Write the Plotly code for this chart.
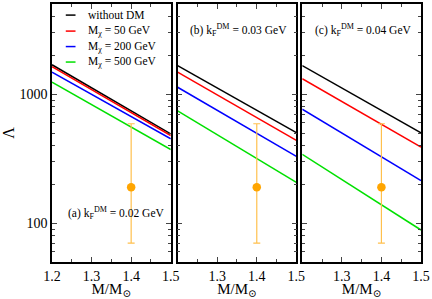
import plotly.graph_objects as go

# ---- data ----
mass = [1.2, 1.5]
series_names = ["without DM", "M<sub>χ</sub> = 50 GeV", "M<sub>χ</sub> = 200 GeV", "M<sub>χ</sub> = 500 GeV"]
series_colors = ["black", "red", "blue", "#00e000"]
panel_a = [[1690, 492], [1635, 478], [1480, 451], [1242, 372]]
panel_b = [[1665, 504], [1480, 438], [1131, 330], [741, 207]]
panel_c = [[1665, 501], [1318, 389], [764, 214], [342, 88.5]]
panels = [panel_a, panel_b, panel_c]
panel_labels = ["(a) k<sub>F</sub><sup>DM</sup> = 0.02 GeV",
                "(b) k<sub>F</sub><sup>DM</sup> = 0.03 GeV",
                "(c) k<sub>F</sub><sup>DM</sup> = 0.04 GeV"]
obs_x = [1.4]
obs_y = [190]
obs_plus = [400]
obs_minus = [120]

x_major = [1.2, 1.3, 1.4, 1.5]
x_minor = [1.25, 1.35, 1.45]
y_major = [100, 1000]
y_minor = [60, 70, 80, 90, 200, 300, 400, 500, 600, 700, 800, 900, 2000, 3000, 4000]

FONT = "Times New Roman, Liberation Serif, DejaVu Serif, serif"
W, H = 432, 299
L, R, T, B = 46, 10, 2, 36
pw = W - L - R
domains = [(0, 121 / pw), (128 / pw, 249 / pw), (255 / pw, 1.0)]

fig = go.Figure()
for i, pdata in enumerate(panels):
    xa = "x" if i == 0 else f"x{i+1}"
    ya = "y" if i == 0 else f"y{i+1}"
    for j, vals in enumerate(pdata):
        fig.add_trace(go.Scatter(x=mass, y=vals, mode="lines", xaxis=xa, yaxis=ya,
                                 line=dict(color=series_colors[j], width=1.5),
                                 name=series_names[j], showlegend=False))
    fig.add_trace(go.Scatter(x=obs_x, y=obs_y, mode="markers", xaxis=xa, yaxis=ya,
                             marker=dict(color="#FFA500", size=8.5),
                             error_y=dict(type="data", symmetric=False, array=obs_plus,
                                          arrayminus=obs_minus, color="#FFC04D",
                                          thickness=1.2, width=3.5),
                             showlegend=False))

for i in range(3):
    sfx = "" if i == 0 else str(i + 1)
    fig.layout["xaxis" + sfx] = dict(
        domain=domains[i], range=[1.2, 1.5], anchor="y" + sfx,
        tickmode="array",
        tickvals=x_major if i == 0 else x_major[1:],
        ticks="inside", ticklen=5, tickwidth=1.2,
        minor=dict(tickmode="array", tickvals=x_minor, ticks="inside", ticklen=3, tickwidth=1.2),
        showline=True, linewidth=1.5, linecolor="black", mirror="allticks",
        showgrid=False, zeroline=False,
        tickfont=dict(family=FONT, size=14, color="black"),
        title=dict(text="M/M<sub>⊙</sub>", font=dict(family=FONT, size=15, color="black"), standoff=3),
    )
    fig.layout["yaxis" + sfx] = dict(
        domain=[0, 1], type="log", range=[1.69897, 3.69897], anchor="x" + sfx,
        tickmode="array", tickvals=y_major,
        showticklabels=(i == 0),
        ticks="inside", ticklen=5, tickwidth=1.2,
        minor=dict(tickmode="array", tickvals=y_minor, ticks="inside", ticklen=3, tickwidth=1.2),
        showline=True, linewidth=1.5, linecolor="black", mirror="allticks",
        showgrid=False, zeroline=False,
        tickfont=dict(family=FONT, size=14, color="black"),
        title=dict(text="Λ" if i == 0 else "", font=dict(family=FONT, size=16, color="black"), standoff=6),
    )

annotations = []
shapes = []
# legend in panel (a)
leg_y = [0.957, 0.895, 0.835, 0.775]
for j in range(4):
    shapes.append(dict(type="line", xref="x domain", yref="y domain",
                       x0=0.116, x1=0.198, y0=leg_y[j], y1=leg_y[j],
                       line=dict(color=series_colors[j], width=1.5)))
    annotations.append(dict(text=series_names[j], xref="x domain", yref="y domain",
                            x=0.29, y=leg_y[j], xanchor="left", yanchor="middle",
                            showarrow=False, font=dict(family=FONT, size=11.5, color="black")))
# panel labels
label_pos = [(0.116, 0.19), (0.09, 0.90), (0.09, 0.90)]
for i in range(3):
    sfx = "" if i == 0 else str(i + 1)
    annotations.append(dict(text=panel_labels[i], xref=f"x{sfx} domain", yref=f"y{sfx} domain",
                            x=label_pos[i][0], y=label_pos[i][1], xanchor="left", yanchor="middle",
                            showarrow=False, font=dict(family=FONT, size=11.5, color="black")))

fig.update_layout(width=W, height=H, margin=dict(l=L, r=R, t=T, b=B),
                  paper_bgcolor="white", plot_bgcolor="white",
                  annotations=annotations, shapes=shapes, showlegend=False)
fig.write_html("out.html", config={"displayModeBar": False},
               post_script="document.body.style.margin='0';document.body.style.overflow='hidden';")
